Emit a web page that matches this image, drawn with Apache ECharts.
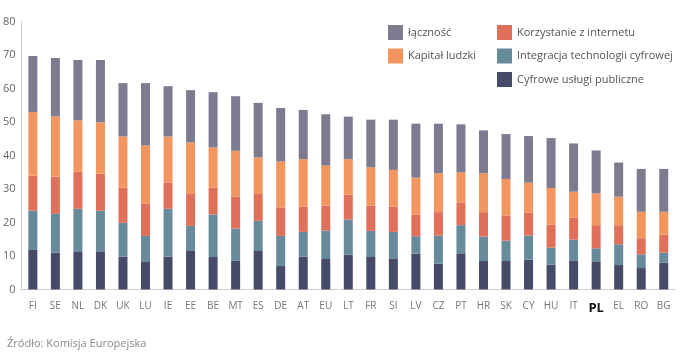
<!DOCTYPE html>
<html>
<head>
<meta charset="utf-8">
<script src="https://cdn.jsdelivr.net/npm/echarts@6/dist/echarts.min.js"></script>
<style>html,body{margin:0;padding:0;background:#fff}#c{width:691px;height:355px}</style>
</head>
<body>
<div id="c"></div>
<script>
const countries = ['FI','SE','NL','DK','UK','LU','IE','EE','BE','MT','ES','DE','AT','EU','LT','FR','SI','LV','CZ','PT','HR','SK','CY','HU','IT','PL','EL','RO','BG'];
const cyfroweUslugi = [11.8,11.0,11.4,11.4,9.8,8.2,9.8,11.7,9.7,8.7,11.5,7.0,9.8,9.1,10.4,9.7,9.3,10.7,7.7,10.8,8.5,8.5,8.9,7.4,8.7,8.2,7.3,6.4,8.0];
const integracja = [11.7,11.6,12.7,12.1,10.1,7.8,14.3,7.3,12.7,9.5,9.0,9.0,7.4,8.5,10.5,7.8,7.9,5.2,8.4,8.4,7.3,6.1,7.2,5.1,6.2,4.1,6.2,4.1,3.0];
const korzystanie = [10.5,11.1,11.1,11.1,10.5,9.6,7.8,9.5,8.0,9.6,8.0,8.5,7.5,7.4,7.4,7.5,7.5,6.4,7.0,6.8,7.3,7.5,6.9,6.9,6.5,6.9,5.7,4.8,5.4];
const kapital = [19.0,18.0,15.3,15.3,15.3,17.4,13.8,15.4,12.0,13.6,11.0,13.7,14.2,12.0,10.6,11.5,11.0,11.1,11.6,9.0,11.6,10.9,8.9,10.9,7.8,9.5,8.5,7.9,6.8];
const lacznosc = [16.7,17.4,18.0,18.6,15.9,18.6,15.0,15.6,16.5,16.3,16.2,16.0,14.7,15.3,12.7,14.2,15.0,16.1,14.8,14.3,12.8,13.4,13.9,14.9,14.4,12.8,10.2,12.8,12.8];
const yTicks = { min: 0, max: 80, interval: 10 };
</script>
<script>
const FONT = 'Open Sans';
const colors = {
  lacz: '#7e7b91', kap: '#f3955f', korz: '#e1705a', integ: '#688b9c', cyf: '#454b68'
};
const chart = echarts.init(document.getElementById('c'), null, {renderer: 'canvas'});
function s(name, data, color) {
  return { name, type: 'bar', stack: 't', data, barWidth: 9, itemStyle: { color }, emphasis: {disabled: true} };
}
const legendText = { color: '#555', fontSize: 11, fontFamily: FONT };
chart.setOption({
  animation: false,
  textStyle: { fontFamily: FONT },
  grid: { left: 21, right: 16, top: 21.5, bottom: 65.5 },
  legend: [
    { orient: 'vertical', left: 383, top: 20, itemWidth: 15, itemHeight: 15, itemGap: 8.5,
      icon: 'rect', textStyle: legendText,
      data: ['łączność', 'Kapitał ludzki'] },
    { orient: 'vertical', left: 492, top: 20, itemWidth: 15, itemHeight: 15, itemGap: 8.5,
      icon: 'rect', textStyle: legendText,
      data: ['Korzystanie z internetu', 'Integracja technologii cyfrowej', 'Cyfrowe usługi publiczne'] }
  ],
  xAxis: {
    type: 'category', data: countries, offset: 5,
    axisLine: { lineStyle: { color: '#cfcfcf', width: 1 } },
    axisTick: { show: false },
    axisLabel: {
      interval: 0, margin: 7, color: '#777', fontSize: 10, fontFamily: FONT,
      formatter: v => v === 'PL' ? '{b|' + v + '}' : v,
      rich: { b: { fontWeight: 'bold', fontSize: 13, color: '#111', fontFamily: FONT } }
    }
  },
  yAxis: {
    type: 'value', min: yTicks.min, max: yTicks.max, interval: yTicks.interval,
    axisLine: { show: true, lineStyle: { color: '#cfcfcf', width: 1 } },
    axisTick: { show: false },
    splitLine: { show: false },
    axisLabel: { color: '#666', fontSize: 11, margin: 6, fontFamily: FONT }
  },
  graphic: [
    { type: 'text', left: 7, top: 338, style: { text: 'Źródło: Komisja Europejska', fill: '#888', fontSize: 11, fontFamily: FONT } }
  ],
  series: [
    s('Cyfrowe usługi publiczne', cyfroweUslugi, colors.cyf),
    s('Integracja technologii cyfrowej', integracja, colors.integ),
    s('Korzystanie z internetu', korzystanie, colors.korz),
    s('Kapitał ludzki', kapital, colors.kap),
    s('łączność', lacznosc, colors.lacz)
  ]
});
</script>
</body>
</html>
